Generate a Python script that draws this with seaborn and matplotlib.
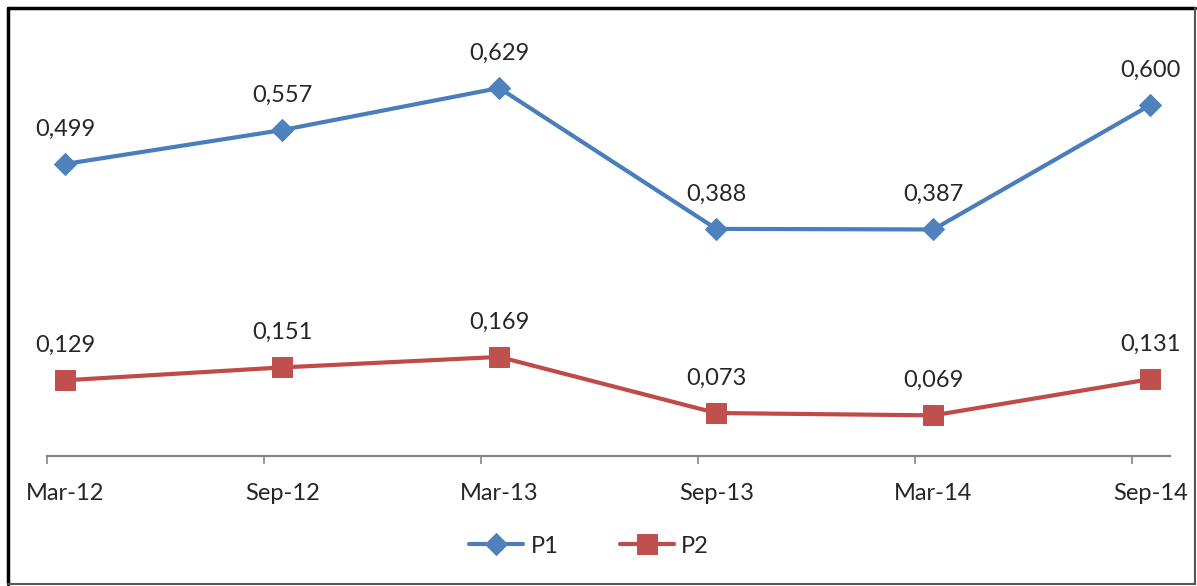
import numpy as np
import pandas as pd
import seaborn as sns
import matplotlib.pyplot as plt
from matplotlib.lines import Line2D

# Semi-annual readings
periods = ["Mar-12", "Sep-12", "Mar-13", "Sep-13", "Mar-14", "Sep-14"]
p1_values = [0.499, 0.557, 0.629, 0.388, 0.387, 0.600]
p2_values = [0.129, 0.151, 0.169, 0.073, 0.069, 0.131]
series_names = ["P1", "P2"]

sns.set_theme(style="white")
plt.rcParams["font.family"] = ["Lato", "DejaVu Sans"]

pos = np.arange(len(periods))
df = pd.DataFrame({
    "pos": np.concatenate([pos, pos]),
    "value": p1_values + p2_values,
    "series": [series_names[0]] * len(pos) + [series_names[1]] * len(pos),
})

fig = plt.figure(figsize=(11.97, 5.86), dpi=100)
ax = fig.add_axes([0.03927, 0.22235, 0.93817, 0.6983])

blue = "#4A7EBB"
red = "#BE4B48"
styles = {
    "P1": dict(color=blue, marker="D", markersize=11, mfc="#4F81BD", mec="#4F81BD"),
    "P2": dict(color=red, marker="s", markersize=15, mfc="#C0504D", mec="#C0504D"),
}

for name in series_names:
    sub = df[df["series"] == name]
    sns.lineplot(data=sub, x="pos", y="value", ax=ax, linewidth=3.0,
                 label=name, **styles[name])
    for x, v in zip(sub["pos"], sub["value"]):
        ax.annotate(f"{v:.3f}".replace(".", ","), (x, v), xytext=(0, 25),
                    textcoords="offset points", ha="center", va="center",
                    fontsize=17, color="#262626")

# Category axis: labels under the points, tick marks on the period boundaries
offset = 0.083
ax.set_xlim(-offset, 5.09)
ax.set_ylim(0, 0.7)
ax.set_xticks(pos)
ax.set_xticklabels(periods, fontsize=17, color="#262626")
ax.set_xticks(pos - offset, minor=True)
ax.tick_params(axis="x", which="major", length=0, pad=20)
ax.tick_params(axis="x", which="minor", length=6, width=1.2, color="#868686",
               direction="out", bottom=True)
ax.set_yticks([])
ax.set_xlabel("")
ax.set_ylabel("")
for s in ["left", "right", "top"]:
    ax.spines[s].set_visible(False)
ax.spines["bottom"].set_color("#868686")
ax.spines["bottom"].set_linewidth(1.6)

leg = ax.legend(loc="center", bbox_to_anchor=(0.492, 0.068),
                bbox_transform=fig.transFigure, ncol=2, frameon=False,
                fontsize=17, handlelength=2.3, handletextpad=0.3,
                columnspacing=2.6, labelcolor="#262626")

# Outer frame
fig.add_artist(Line2D([8 / 1197, 8 / 1197], [2 / 586, 1 - 8 / 586],
                      transform=fig.transFigure, color="black", lw=2.5))
fig.add_artist(Line2D([8 / 1197, 1195 / 1197], [1 - 8 / 586, 1 - 8 / 586],
                      transform=fig.transFigure, color="black", lw=2.5))
fig.add_artist(Line2D([1195 / 1197, 1195 / 1197], [2 / 586, 1 - 8 / 586],
                      transform=fig.transFigure, color="#555555", lw=1.5))
fig.add_artist(Line2D([8 / 1197, 1195 / 1197], [2 / 586, 2 / 586],
                      transform=fig.transFigure, color="#555555", lw=1.5))

fig.savefig("out.png", dpi=100)
